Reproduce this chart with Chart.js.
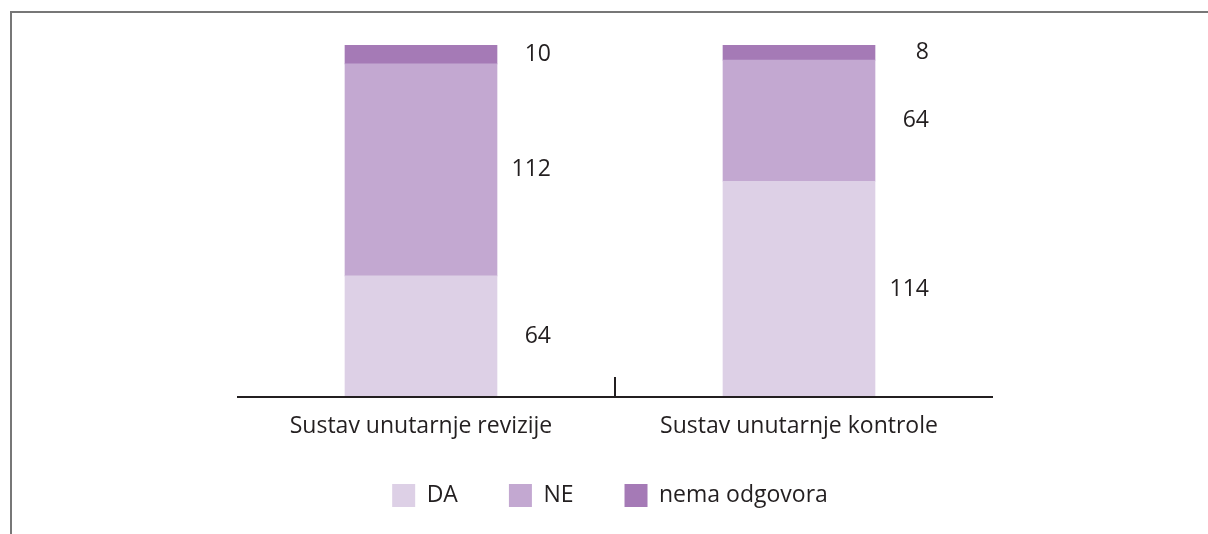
<!DOCTYPE html>
<html>
<head>
<meta charset="utf-8">
<script src="https://cdn.jsdelivr.net/npm/chart.js@4"></script>
<style>
  html, body { margin: 0; padding: 0; background: #fff; }
  #wrap { position: relative; width: 1208px; height: 534px; }
  #frame {
    position: absolute; left: 10px; top: 11px; right: 0; bottom: 0;
    border-top: 2px solid #777; border-left: 2px solid #777;
  }
  canvas { position: absolute; left: 0; top: 0; }
</style>
</head>
<body>
<div id="wrap">
  <div id="frame"></div>
  <canvas id="chart" width="1208" height="534"></canvas>
</div>
<script>
// categories and series
const categories = ['Sustav unutarnje revizije', 'Sustav unutarnje kontrole'];
const daValues = [64, 114];
const neValues = [112, 64];
const nemaValues = [10, 8];

const textColor = '#231f20';
const fontFamily = "'Open Sans', sans-serif";

// draws the numbers to the right of each bar segment
const valueLabels = {
  id: 'valueLabels',
  afterDatasetsDraw(chart) {
    const ctx = chart.ctx;
    ctx.save();
    ctx.fillStyle = textColor;
    ctx.font = '23px ' + fontFamily;
    ctx.textAlign = 'right';
    ctx.textBaseline = 'middle';
    chart.data.datasets.forEach((ds, i) => {
      const meta = chart.getDatasetMeta(i);
      meta.data.forEach((bar, j) => {
        const right = bar.x + bar.width / 2;
        const midY = (bar.y + bar.base) / 2;
        ctx.fillText(String(ds.data[j]), right + 54, midY);
      });
    });
    ctx.restore();
  }
};

// baseline axis with one small tick between the two categories,
// plus the category names (drawn here so the axis band stays short)
const axisLine = {
  id: 'axisLine',
  afterDatasetsDraw(chart) {
    const { ctx, chartArea } = chart;
    const xScale = chart.scales.x;
    const shift = 5; // axis sits a little right of the bars in the original
    ctx.save();
    ctx.strokeStyle = '#231f20';
    ctx.lineWidth = 2;
    ctx.beginPath();
    ctx.moveTo(chartArea.left + shift, chartArea.bottom);
    ctx.lineTo(chartArea.right + shift, chartArea.bottom);
    const mid = (chartArea.left + chartArea.right) / 2 + shift;
    ctx.moveTo(mid, chartArea.bottom);
    ctx.lineTo(mid, chartArea.bottom - 20);
    ctx.stroke();

    ctx.fillStyle = textColor;
    ctx.font = '23px ' + fontFamily;
    ctx.textAlign = 'center';
    ctx.textBaseline = 'middle';
    categories.forEach((name, i) => {
      ctx.fillText(name, xScale.getPixelForTick(i), chartArea.bottom + 29);
    });
    ctx.restore();
  }
};

new Chart(document.getElementById('chart'), {
  type: 'bar',
  data: {
    labels: categories,
    datasets: [
      { label: 'DA', data: daValues, backgroundColor: '#ddd0e6' },
      { label: 'NE', data: neValues, backgroundColor: '#c3a8d1' },
      { label: 'nema odgovora', data: nemaValues, backgroundColor: '#a57ab6' }
    ]
  },
  options: {
    responsive: false,
    animation: false,
    layout: { padding: { left: 232, right: 220, top: 45, bottom: 17 } },
    datasets: { bar: { barThickness: 152 } },
    scales: {
      x: {
        stacked: true,
        grid: { display: false, drawTicks: false },
        border: { display: false },
        ticks: { display: false },
        afterFit(scale) { scale.height = 36; }
      },
      y: {
        stacked: true,
        display: false,
        min: 0,
        max: 186
      }
    },
    plugins: {
      tooltip: { enabled: false },
      legend: {
        position: 'bottom',
        labels: {
          color: textColor,
          font: { size: 23, family: fontFamily },
          boxWidth: 23,
          boxHeight: 23,
          padding: 51
        }
      }
    }
  },
  plugins: [valueLabels, axisLine]
});
</script>
</body>
</html>
